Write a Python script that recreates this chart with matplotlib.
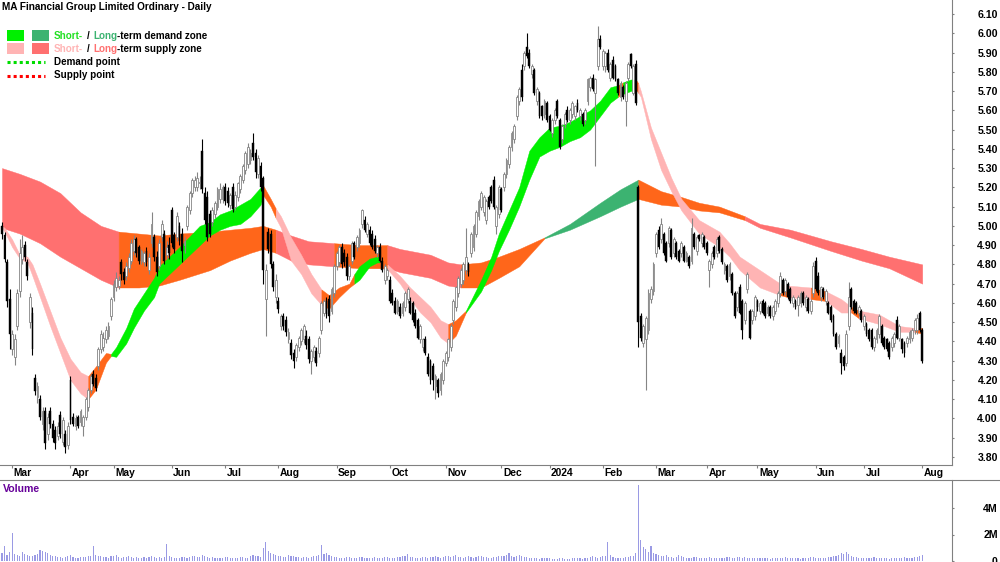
import numpy as np
import matplotlib
matplotlib.use("Agg")
import matplotlib.pyplot as plt
from matplotlib.patches import Rectangle
from matplotlib.lines import Line2D

plt.rcParams['font.family'] = ['Liberation Sans', 'DejaVu Sans']

TITLE = "MA Financial Group Limited Ordinary - Daily"

# ---- daily OHLC (cents) ----
OPEN = [500,495,481,462,436,432,448,466,483,490,481,450,455,421,411,410,397,404,392,404,
397,394,391,402,388,392,386,420,401,396,401,398,396,401,406,415,423,421,427,436,
437,441,443,453,463,468,469,481,476,474,478,482,487,493,489,482,481,487,477,491,
494,484,479,494,496,485,490,508,495,494,500,496,490,500,508,517,520,520,522,539,
517,515,506,502,506,510,514,514,520,518,511,520,510,515,519,524,529,532,534,543,
538,527,531,525,462,497,496,480,463,461,448,453,451,441,439,434,432,437,440,441,
443,441,430,432,435,434,446,455,461,462,456,465,479,481,489,486,484,474,482,491,
489,491,501,503,496,498,496,493,486,489,482,472,474,472,465,461,456,458,455,458,
462,461,460,455,451,441,437,441,432,430,427,417,420,415,420,429,432,437,451,458,
465,470,472,477,480,486,489,496,505,510,507,503,515,520,524,500,506,519,520,527,
532,541,545,557,565,581,583,593,590,579,581,565,569,562,558,564,557,548,555,565,
555,545,553,560,555,558,557,564,557,558,555,565,572,577,569,583,597,583,583,590,
577,586,583,576,567,572,565,577,589,569,584,520,453,439,441,446,462,466,486,498,
493,496,491,491,498,486,491,487,486,489,482,484,482,496,487,495,491,494,491,477,
480,489,486,494,488,477,479,474,475,465,458,468,461,451,467,456,451,453,461,456,
461,460,455,458,453,456,460,465,472,466,470,467,460,461,459,460,465,458,462,456,
465,482,474,463,467,461,460,458,453,444,439,434,432,429,448,467,461,460,455,456,
448,449,446,446,437,441,444,448,442,441,439,437,439,451,442,441,439,439,441,442,
446,446,455,446]
HIGH = [502,497,483,467,446,444,467,493,495,492,483,465,458,423,419,412,406,406,403,406,
399,396,398,404,401,394,398,422,403,402,402,405,402,411,416,423,425,423,437,446,
445,448,450,463,472,476,474,483,478,481,486,493,495,494,490,488,487,489,486,507,
496,487,493,503,498,492,494,510,497,507,502,499,494,511,518,525,526,528,526,545,
520,518,508,510,513,520,522,521,522,520,517,522,518,523,527,532,539,543,540,548,
540,537,533,526,480,499,498,482,475,463,454,455,453,447,441,436,439,443,447,449,
446,443,436,438,437,443,461,462,463,464,468,480,487,490,491,488,486,480,492,492,
495,499,509,505,502,500,498,495,490,491,484,480,478,474,467,463,462,460,461,466,
468,463,461,457,452,449,442,443,434,431,429,423,421,424,431,435,442,449,462,469,
474,478,481,499,481,497,501,508,514,518,516,514,516,521,526,511,521,520,528,535,
542,549,553,568,572,584,591,600,592,584,582,572,570,563,566,565,558,556,561,566,
556,553,559,562,561,565,563,566,561,559,561,577,578,579,577,604,599,592,591,592,
585,588,584,577,575,573,575,585,590,584,586,521,455,449,453,467,469,481,497,500,
504,497,492,500,499,494,492,488,492,490,487,485,504,497,495,496,497,495,492,483,
487,490,494,495,489,481,480,481,476,466,466,470,462,461,476,457,457,464,462,461,
462,461,459,459,459,462,466,476,473,473,471,468,464,462,464,466,466,464,463,462,
481,484,476,469,468,467,461,459,454,445,444,436,433,446,471,468,462,461,459,457,
454,450,447,447,443,447,454,449,443,442,440,443,445,453,449,442,440,443,446,447,
452,454,456,447]
LOW = [493,481,458,436,433,428,446,463,480,482,472,447,433,412,408,399,394,384,389,395,
388,384,389,390,386,382,384,397,396,394,395,396,391,399,404,413,417,414,425,434,
435,439,441,451,461,466,467,472,470,472,476,480,485,484,480,480,479,479,475,489,
482,474,477,492,480,483,483,489,486,492,490,481,486,498,506,515,518,518,519,517,
501,492,494,500,504,508,512,512,511,510,509,507,508,513,517,522,527,530,532,534,
525,525,518,470,443,486,478,466,460,455,446,446,443,439,431,426,430,435,438,439,
436,429,423,430,427,432,444,453,452,450,454,463,477,479,478,479,472,472,480,483,
487,489,499,497,494,490,488,486,484,481,476,470,472,460,459,454,454,452,453,456,
460,454,450,447,441,439,435,433,422,418,415,410,411,412,418,427,430,435,449,456,
463,468,470,475,474,484,487,494,503,508,505,501,509,512,509,496,504,507,518,525,
530,539,543,555,563,565,581,587,582,577,568,563,556,555,556,554,549,546,553,556,
540,543,551,554,553,556,555,559,555,552,553,563,570,570,531,581,592,581,580,580,
575,576,575,568,565,566,552,575,582,568,563,437,440,437,415,444,460,464,484,488,
491,485,481,489,483,484,483,481,484,481,481,478,480,488,485,492,489,488,485,468,
478,483,484,486,480,475,471,472,464,452,456,454,441,449,465,441,449,451,456,454,
454,452,453,452,451,454,458,463,464,464,462,460,458,457,453,458,459,456,455,454,
463,466,464,461,462,459,454,450,443,436,437,423,425,427,446,457,455,454,453,450,
446,443,440,436,435,439,442,438,436,435,431,435,437,441,440,434,432,437,439,440,
444,444,445,429]
CLOSE = [496,483,461,444,444,441,465,486,489,484,474,463,436,414,417,401,404,387,401,397,
390,387,396,392,399,385,396,399,397,400,396,404,401,410,415,422,418,416,436,444,
442,446,448,462,470,473,472,475,472,479,484,491,493,486,482,487,486,481,484,501,
484,476,491,501,482,489,486,491,488,505,492,487,492,510,517,524,524,525,523,519,
503,494,496,508,512,519,519,520,513,512,516,509,516,522,526,531,538,541,538,536,
528,535,520,477,477,488,480,468,472,457,453,448,445,445,433,430,438,442,446,448,
438,431,435,437,429,442,460,461,454,453,467,479,486,489,480,481,474,479,491,484,
494,498,508,498,501,491,489,487,489,482,477,479,477,461,460,455,461,453,460,465,
467,455,451,448,442,448,441,434,423,420,420,422,413,423,430,434,441,448,461,468,
473,477,480,484,476,496,500,507,513,517,515,513,510,513,510,510,520,508,527,534,
541,548,552,567,571,567,590,588,583,583,569,571,557,557,565,555,550,555,560,557,
541,552,558,555,560,564,562,560,560,553,560,576,577,571,576,597,593,591,590,581,
584,577,576,569,574,567,574,584,583,583,564,450,442,448,452,465,467,480,496,489,
501,486,482,499,484,493,484,482,491,482,486,479,499,489,494,493,496,489,486,482,
486,484,493,487,481,480,472,480,465,453,465,455,446,460,475,442,456,463,458,460,
455,453,458,453,458,461,465,474,465,472,463,461,463,458,463,465,460,463,456,461,
479,467,465,468,463,466,455,451,444,437,443,429,427,444,463,458,456,455,458,451,
453,444,441,437,442,446,453,439,437,436,432,442,444,442,448,436,434,442,445,446,
451,452,446,430]
# volume in units of 10,000 shares
VOLUME = [60,110,45,70,215,55,45,40,65,50,45,40,35,45,50,80,75,70,60,45,
40,35,30,28,25,30,35,45,30,25,25,30,28,30,35,40,115,45,40,35,
30,28,25,35,40,45,30,25,28,30,35,30,25,28,22,25,30,25,28,35,
30,25,28,25,30,125,35,28,25,22,25,30,28,25,30,35,40,30,28,45,
35,30,25,28,25,22,20,25,30,28,25,22,20,25,28,30,25,22,35,45,
40,35,30,95,140,75,60,50,45,40,35,30,28,45,40,35,30,28,25,30,
28,25,30,35,40,45,120,55,60,45,35,30,28,25,22,25,30,28,25,22,
25,30,28,25,22,20,25,28,22,20,25,28,30,25,22,25,28,30,35,40,
55,30,28,25,22,25,28,30,25,28,30,35,28,25,30,35,40,30,35,45,
30,28,25,30,35,28,25,30,35,40,30,28,25,22,28,30,35,40,35,45,
60,35,30,40,45,35,30,28,25,22,25,20,18,20,22,25,20,18,15,18,
20,22,18,15,18,20,22,25,20,18,22,25,30,35,28,25,30,35,40,140,
45,30,25,22,20,25,28,30,35,40,60,570,160,105,90,70,115,60,50,45,
40,35,45,30,28,25,30,45,35,28,25,22,25,28,30,25,22,20,25,28,
22,20,25,22,20,25,28,30,25,22,28,30,25,28,22,20,25,22,20,25,
22,25,20,18,22,25,20,22,25,28,22,20,25,22,20,18,22,20,25,30,
28,25,22,20,25,22,28,30,35,40,45,60,55,65,50,40,30,28,25,22,
25,20,22,25,28,22,20,25,22,20,18,22,25,20,22,25,28,22,20,25,
28,30,35,45]

MONTH_LABELS = ["Mar", "Apr", "May", "Jun", "Jul", "Aug", "Sep", "Oct", "Nov", "Dec",
                "2024", "Feb", "Mar", "Apr", "May", "Jun", "Jul", "Aug"]
MONTH_START_IDX = [4, 27, 44, 67, 88, 109, 132, 153, 175, 197, 216, 237, 258, 278, 298, 321, 340, 363]

PRICE_TICKS = [3.80, 3.90, 4.00, 4.10, 4.20, 4.30, 4.40, 4.50, 4.60, 4.70, 4.80, 4.90, 5.00,
               5.10, 5.20, 5.30, 5.40, 5.50, 5.60, 5.70, 5.80, 5.90, 6.00, 6.10]
VOL_TICKS = [0, 2_000_000, 4_000_000]
VOL_TICK_LABELS = ["0", "2M", "4M"]

# ---- long-term zone (knots: day index, upper, lower; colour of each interval) ----
LT_IDX = [0,7,15,23,31,39,46,54,62,70,82,90,98,103,108,114,121,131,141,152,157,169,176,
          181,189,196,204,214,224,236,244,251,260,268,275,283,293,299,311,327,339,350,363]
LT_TOP = [5.30,5.27,5.23,5.17,5.07,5.00,4.97,4.96,4.95,4.96,4.97,4.98,4.99,5.00,4.98,4.95,4.92,
          4.91,4.90,4.90,4.88,4.85,4.81,4.80,4.81,4.84,4.88,4.94,5.01,5.12,5.19,5.24,5.18,5.15,
          5.12,5.10,5.05,5.01,4.98,4.92,4.88,4.84,4.80]
LT_BOT = [4.99,4.96,4.91,4.84,4.78,4.72,4.68,4.68,4.69,4.72,4.77,4.82,4.86,4.88,4.86,4.82,4.80,
          4.79,4.78,4.78,4.76,4.73,4.69,4.68,4.68,4.73,4.79,4.935,4.98,5.05,5.10,5.14,5.11,5.10,
          5.08,5.07,5.03,4.99,4.94,4.87,4.82,4.78,4.70]
LT_COL = "RRRRRR" + "OOOOOOOO" + "RRR" + "OO" + "RRRR" + "OOOO" + "GGGG" + "OOOOO" + "RRRRRR"

# ---- short-term zone ----
ST_IDX = [0,1,4,7,10,12,15,19,23,27,31,34,37,41,43,45,49,52,56,60,62,66,70,78,82,86,90,94,98,102,
          103,106,108,110,114,118,122,126,129,133,137,139,141,145,148,149,152,157,161,165,169,173,
          176,179,183,189,193,196,200,204,208,212,216,220,224,228,232,236,240,243,245,248,250,251,
          252,256,260,264,268,275,283,287,291,299,307,310,319,325,331,335,338,346,354,360,363]
ST_TOP = [5.00,4.99,4.93,4.85,4.84,4.80,4.70,4.56,4.42,4.31,4.24,4.22,4.27,4.34,4.335,4.37,4.47,
          4.57,4.65,4.73,4.79,4.84,4.89,5.00,5.02,5.06,5.08,5.11,5.14,5.20,5.21,5.14,5.09,5.05,
          4.94,4.85,4.75,4.67,4.64,4.68,4.70,4.75,4.79,4.83,4.84,4.84,4.80,4.74,4.68,4.63,4.58,
          4.51,4.49,4.51,4.56,4.72,4.84,4.96,5.08,5.20,5.39,5.46,5.51,5.52,5.54,5.57,5.60,5.65,
          5.72,5.73,5.745,5.76,5.76,5.74,5.70,5.51,5.38,5.25,5.14,5.03,4.97,4.91,4.84,4.77,4.70,
          4.69,4.68,4.66,4.62,4.58,4.56,4.54,4.48,4.47,4.47]
ST_BOT = [4.99,4.97,4.89,4.83,4.81,4.74,4.63,4.48,4.34,4.20,4.13,4.10,4.15,4.29,4.325,4.32,4.39,
          4.47,4.56,4.63,4.70,4.75,4.80,4.90,4.95,4.98,5.00,5.01,5.05,5.11,5.16,5.10,5.04,4.99,
          4.82,4.75,4.65,4.59,4.57,4.63,4.68,4.70,4.72,4.79,4.81,4.81,4.775,4.70,4.62,4.55,4.50,
          4.42,4.39,4.43,4.55,4.66,4.77,4.87,4.98,5.10,5.24,5.36,5.39,5.41,5.44,5.46,5.50,5.57,
          5.64,5.67,5.685,5.70,5.71,5.69,5.67,5.45,5.29,5.18,5.08,4.96,4.89,4.84,4.77,4.68,4.64,
          4.63,4.62,4.61,4.55,4.55,4.52,4.49,4.45,4.45,4.44]
ST_COL = ("P" * 11 + "O" * 3 + "G" * 16 + "O" * 2 + "P" * 5 + "O" * 4 + "G" * 4 + "O" +
          "P" * 6 + "O" * 2 + "G" * 15 + "O" + "G" * 2 + "O" + "P" * 11 + "O" + "P" + "O" +
          "P" * 2 + "O" + "P" * 3 + "O")

# ---- styles ----
C_ST_DEMAND = "#00f000"
C_LT_DEMAND = "#3cb371"
C_ST_SUPPLY = "#ffb4b4"
C_LT_SUPPLY = "#ff7070"
C_NEUTRAL = "#ff661a"
LT_MAP = {"R": C_LT_SUPPLY, "G": C_LT_DEMAND, "O": C_NEUTRAL}
ST_MAP = {"P": C_ST_SUPPLY, "G": C_ST_DEMAND, "O": C_NEUTRAL}
GRID = "#808080"
FONT = dict(fontweight="bold")

W, H = 1000, 562
PX = 2.535          # pixels per trading day
X0 = 2.0            # pixel of first candle

def fx(p):
    return p / W

def fy(p):
    return 1 - p / H

fig = plt.figure(figsize=(W / 100, H / 100), dpi=100)
ax = fig.add_axes([0, fy(465), fx(952), 465 / H])
axv = fig.add_axes([0, 0, fx(952), (H - 480) / H])

xlim = (-X0 / PX, (952 - X0) / PX)
ax.set_xlim(*xlim)
axv.set_xlim(*xlim)
ax.set_ylim(6.10 - (465 - 14) / 192.6, 6.10 + 14 / 192.6)
axv.set_ylim(-1 / 13.25 * 1e6, (561 - 480) / 13.25 * 1e6)

# ---- bands ----
def draw_band(idx, top, bot, cols, cmap, z):
    idx = np.asarray(idx, float)
    top = np.asarray(top, float)
    bot = np.asarray(bot, float)
    start = 0
    for k in range(1, len(cols) + 1):
        if k == len(cols) or cols[k] != cols[start]:
            sl = slice(start, k + 1)
            c = cmap[cols[start]]
            ax.fill_between(idx[sl], top[sl], bot[sl], facecolor=c, edgecolor=c,
                            linewidth=0.3, zorder=z)
            start = k

draw_band(LT_IDX, LT_TOP, LT_BOT, LT_COL, LT_MAP, 1)
draw_band(ST_IDX, ST_TOP, ST_BOT, ST_COL, ST_MAP, 2)

# ---- candles ----
o = np.array(OPEN) / 100.0
h = np.array(HIGH) / 100.0
l = np.array(LOW) / 100.0
c = np.array(CLOSE) / 100.0
x = np.arange(len(o))
up = c >= o
hi = np.maximum(h, np.maximum(o, c))
lo = np.minimum(l, np.minimum(o, c))
ax.vlines(x[up], lo[up], hi[up], color="#858585", linewidth=0.8, zorder=3)
ax.vlines(x[~up], lo[~up], hi[~up], color="black", linewidth=0.8, zorder=3)
ax.bar(x[up], (c - o)[up], bottom=o[up], width=0.72, facecolor="white",
       edgecolor="#858585", linewidth=0.6, zorder=4)
ax.bar(x[~up], (o - c)[~up], bottom=c[~up], width=0.72, facecolor="black",
       edgecolor="black", linewidth=0.3, zorder=4)

# ---- volume ----
v = np.array(VOLUME) * 1e4
axv.bar(np.arange(len(v)), v, width=0.45, color="#9a9ae4", linewidth=0, zorder=2)

# ---- axes styling ----
for a in (ax, axv):
    for s in ("left", "top", "bottom"):
        a.spines[s].set_visible(False)
    a.spines["right"].set_color(GRID)
    a.spines["right"].set_linewidth(0.8)
    a.set_facecolor("none")
ax.spines["bottom"].set_visible(True)
ax.spines["bottom"].set_color(GRID)
ax.spines["bottom"].set_linewidth(0.8)

ax.yaxis.tick_right()
ax.set_yticks(PRICE_TICKS)
ax.set_yticklabels([f"{t:.2f}" for t in PRICE_TICKS])
axv.yaxis.tick_right()
axv.set_yticks(VOL_TICKS)
axv.set_yticklabels(VOL_TICK_LABELS)
for a in (ax, axv):
    a.tick_params(axis="y", direction="out", length=1.6, width=0.8, color=GRID,
                  pad=31.5, labelsize=7.6)
    for lab in a.get_yticklabels():
        lab.set_horizontalalignment("right")
        lab.set_fontweight("bold")

ax.set_xticks(MONTH_START_IDX)
ax.tick_params(axis="x", direction="out", length=2.5, width=0.8, color=GRID,
               labelbottom=False)
axv.set_xticks([])
xtr = ax.get_xaxis_transform()
for i, lab in zip(MONTH_START_IDX, MONTH_LABELS):
    ax.text(i + 0.6, -8.3 / 465, lab, transform=xtr, ha="left", va="center",
            fontsize=7.4, clip_on=False, **FONT)

# separators
fig.add_artist(Line2D([0, 1], [fy(480), fy(480)], transform=fig.transFigure,
                      color=GRID, linewidth=0.8))

# ---- texts ----
renderer = fig.canvas.get_renderer()

def fit(t, width_px):
    bb = t.get_window_extent(renderer)
    t.set_fontsize(t.get_fontsize() * width_px / bb.width)

title = fig.text(fx(2), fy(7), TITLE, ha="left", va="center", fontsize=8,
                 color="black", **FONT)
fit(title, 211)

fig.text(fx(3), fy(489), "Volume", ha="left", va="center", fontsize=7.6,
         color="#660099", **FONT)

# legend swatches
for (x0, y0, col) in [(7, 30, C_ST_DEMAND), (32, 30, C_LT_DEMAND),
                      (7, 43, C_ST_SUPPLY), (32, 43, C_LT_SUPPLY)]:
    fig.add_artist(Rectangle((fx(x0), fy(y0 + 10.5)), 17 / W, 10.5 / H,
                             transform=fig.transFigure, facecolor=col, edgecolor="none"))

probe = fig.text(0, 0, "-term demand zone", fontsize=8, **FONT)
fit(probe, 91)
LFS = probe.get_fontsize()
probe.remove()

def ltxt(xp, yp, s, col):
    return fig.text(fx(xp), fy(yp), s, ha="left", va="center", fontsize=LFS,
                    color=col, **FONT)

def lchain(yp, pieces, x_start):
    xp = x_start
    for s, col, gap in pieces:
        xp += gap
        t = ltxt(xp, yp, s, col)
        xp = t.get_window_extent(renderer).x1

lchain(36, [("Short-", "#22e022", 0), ("/", "black", 3.5), ("Long", C_LT_DEMAND, 3.5),
            ("-term demand zone", "black", 0)], 54)
lchain(49, [("Short-", C_ST_SUPPLY, 0), ("/", "black", 3.5), ("Long", C_LT_SUPPLY, 3.5),
            ("-term supply zone", "black", 0)], 54)
ltxt(54, 62, "Demand point", "black")
ltxt(54, 75, "Supply point", "black")

fig.add_artist(Line2D([fx(7), fx(45)], [fy(62), fy(62)], transform=fig.transFigure,
                      color="#00dd00", linewidth=2.2, linestyle=(0, (1, 1))))
fig.add_artist(Line2D([fx(7), fx(45)], [fy(76), fy(76)], transform=fig.transFigure,
                      color="#ff0000", linewidth=2.2, linestyle=(0, (1, 1))))

fig.savefig("out.png", dpi=100)
